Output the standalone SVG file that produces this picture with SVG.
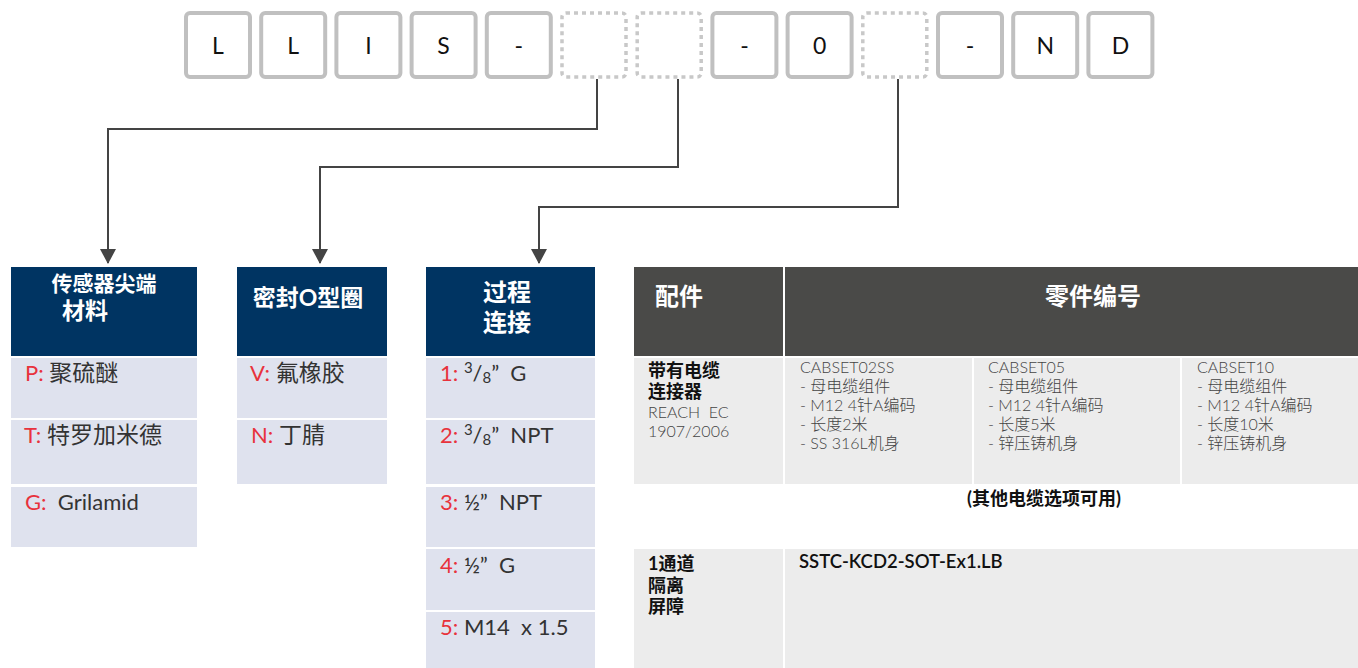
<svg xmlns="http://www.w3.org/2000/svg" width="1358" height="668" viewBox="0 0 1358 668">
<defs>
<marker id="arr" markerWidth="16" markerHeight="16" refX="14" refY="8" orient="auto" markerUnits="userSpaceOnUse">
<path d="M0,0 L15,8 L0,16 z" fill="#444"/>
</marker>
<style>
text{font-family:Lato,"Noto Sans CJK SC",sans-serif;white-space:pre}
.box{fill:#fff;stroke:#c0c0c0;stroke-width:4}
.dbox{fill:#fff;stroke:#c8c8c8;stroke-width:3.5;stroke-dasharray:4 4}
.lt{font-size:23px;fill:#111;text-anchor:middle}
.conn{fill:none;stroke:#444;stroke-width:2}
.nh{fill:#003462}
.nr{fill:#dfe2ee}
.gh{fill:#4a4a48}
.gr{fill:#ececec}
.hw{fill:#fff;font-weight:bold}
.rt{font-size:22px;fill:#333}
.cj{font-size:23px}
.red{fill:#e8323c}
.ct{font-size:16px;fill:#444;font-weight:300}
.bt{font-size:18px;fill:#111;font-weight:bold}
</style>
</defs>
<g id="code">
<g id="c1"><rect class="box" x="186" y="13" width="64" height="64" rx="4"/><text class="lt" x="218" y="54">L</text></g>
<g id="c2"><rect class="box" x="261.2" y="13" width="64" height="64" rx="4"/><text class="lt" x="293.2" y="54">L</text></g>
<g id="c3"><rect class="box" x="336.4" y="13" width="64" height="64" rx="4"/><text class="lt" x="368.4" y="54">I</text></g>
<g id="c4"><rect class="box" x="411.6" y="13" width="64" height="64" rx="4"/><text class="lt" x="443.6" y="54">S</text></g>
<g id="c5"><rect class="box" x="486.8" y="13" width="64" height="64" rx="4"/><text class="lt" x="518.8" y="54">-</text></g>
<g id="c6"><rect class="dbox" x="562" y="13" width="64" height="64" rx="4"/></g>
<g id="c7"><rect class="dbox" x="637.2" y="13" width="64" height="64" rx="4"/></g>
<g id="c8"><rect class="box" x="712.4" y="13" width="64" height="64" rx="4"/><text class="lt" x="744.4" y="54">-</text></g>
<g id="c9"><rect class="box" x="787.6" y="13" width="64" height="64" rx="4"/><text class="lt" x="819.6" y="54">0</text></g>
<g id="c10"><rect class="dbox" x="862.8" y="13" width="64" height="64" rx="4"/></g>
<g id="c11"><rect class="box" x="938" y="13" width="64" height="64" rx="4"/><text class="lt" x="970" y="54">-</text></g>
<g id="c12"><rect class="box" x="1013.2" y="13" width="64" height="64" rx="4"/><text class="lt" x="1045.2" y="54">N</text></g>
<g id="c13"><rect class="box" x="1088.4" y="13" width="64" height="64" rx="4"/><text class="lt" x="1120.4" y="54">D</text></g>
</g>
<g id="connectors">
<path class="conn" d="M597,79 V129 H108 V263" marker-end="url(#arr)"/>
<path class="conn" d="M678,79 V167 H320 V263" marker-end="url(#arr)"/>
<path class="conn" d="M898,79 V207 H539 V263" marker-end="url(#arr)"/>
</g>
<g id="tip">
<rect class="nh" x="11" y="267" width="186" height="89"/>
<text class="hw" x="104" y="291" font-size="21" text-anchor="middle">传感器尖端</text>
<text class="hw" x="62" y="319" font-size="23">材料</text>
<rect class="nr" x="11" y="358" width="186" height="60"/>
<rect class="nr" x="11" y="420" width="186" height="64"/>
<rect class="nr" x="11" y="487" width="186" height="60"/>
<text class="rt" x="25" y="381"><tspan class="red">P:</tspan> <tspan class="cj">聚硫醚</tspan></text>
<text class="rt" x="24" y="443"><tspan class="red">T:</tspan> <tspan class="cj">特罗加米德</tspan></text>
<text class="rt" x="25" y="510"><tspan class="red">G:</tspan>  Grilamid</text>
</g>
<g id="oring">
<rect class="nh" x="237" y="267" width="150" height="89"/>
<text class="hw" x="308" y="306" font-size="23" text-anchor="middle">密封O型圈</text>
<rect class="nr" x="237" y="358" width="150" height="60"/>
<rect class="nr" x="237" y="420" width="150" height="64"/>
<text class="rt" x="250" y="381"><tspan class="red">V:</tspan> <tspan class="cj">氟橡胶</tspan></text>
<text class="rt" x="251" y="443"><tspan class="red">N:</tspan> <tspan class="cj">丁腈</tspan></text>
</g>
<g id="process">
<rect class="nh" x="426" y="267" width="169" height="89"/>
<text class="hw" x="507" y="301" font-size="24" text-anchor="middle">过程</text>
<text class="hw" x="507" y="331" font-size="24" text-anchor="middle">连接</text>
<rect class="nr" x="426" y="358" width="169" height="60"/>
<rect class="nr" x="426" y="420" width="169" height="64"/>
<rect class="nr" x="426" y="487" width="169" height="60"/>
<rect class="nr" x="426" y="549" width="169" height="61"/>
<rect class="nr" x="426" y="612" width="169" height="56"/>
<text class="rt" x="440" y="381"><tspan class="red">1:</tspan> <tspan font-size="15" dy="-8">3</tspan><tspan dy="8">/</tspan><tspan font-size="15" dy="2">8</tspan><tspan dy="-2">”  G</tspan></text>
<text class="rt" x="440" y="443"><tspan class="red">2:</tspan> <tspan font-size="15" dy="-8">3</tspan><tspan dy="8">/</tspan><tspan font-size="15" dy="2">8</tspan><tspan dy="-2">”  NPT</tspan></text>
<text class="rt" x="440" y="510"><tspan class="red">3:</tspan> ½”  NPT</text>
<text class="rt" x="440" y="573"><tspan class="red">4:</tspan> ½”  G</text>
<text class="rt" x="440" y="635"><tspan class="red">5:</tspan> M14  x 1.5</text>
</g>
<g id="accessories">
<rect class="gh" x="634" y="267" width="149" height="89"/>
<rect class="gh" x="785" y="267" width="573" height="89"/>
<text class="hw" x="655" y="305" font-size="24">配件</text>
<text class="hw" x="1093" y="305" font-size="24" text-anchor="middle">零件编号</text>
<rect class="gr" x="634" y="358" width="149" height="126"/>
<rect class="gr" x="785" y="358" width="187" height="126"/>
<rect class="gr" x="974" y="358" width="206" height="126"/>
<rect class="gr" x="1182" y="358" width="176" height="126"/>
<text class="bt" x="648" y="377">带有电缆</text>
<text class="bt" x="648" y="398">连接器</text>
<text class="ct" x="648" y="418">REACH  EC</text>
<text class="ct" x="648" y="437">1907/2006</text>
<text class="ct" x="800" y="373">CABSET02SS</text>
<text class="ct" x="800" y="392">- 母电缆组件</text>
<text class="ct" x="800" y="411">- M12 4针A编码</text>
<text class="ct" x="800" y="430">- 长度2米</text>
<text class="ct" x="800" y="449">- SS 316L机身</text>
<text class="ct" x="988" y="373">CABSET05</text>
<text class="ct" x="988" y="392">- 母电缆组件</text>
<text class="ct" x="988" y="411">- M12 4针A编码</text>
<text class="ct" x="988" y="430">- 长度5米</text>
<text class="ct" x="988" y="449">- 锌压铸机身</text>
<text class="ct" x="1197" y="373" font-weight="bold" fill="#111">CABSET10</text>
<text class="ct" x="1197" y="392">- 母电缆组件</text>
<text class="ct" x="1197" y="411">- M12 4针A编码</text>
<text class="ct" x="1197" y="430">- 长度10米</text>
<text class="ct" x="1197" y="449">- 锌压铸机身</text>
<text class="bt" x="1044" y="505" text-anchor="middle">(其他电缆选项可用)</text>
</g>
<g id="barrier">
<rect class="gr" x="634" y="549" width="149" height="119"/>
<rect class="gr" x="785" y="549" width="573" height="119"/>
<text class="bt" x="648" y="570">1通道</text>
<text class="bt" x="648" y="592">隔离</text>
<text class="bt" x="648" y="613">屏障</text>
<text x="799" y="568" font-size="18.5" fill="#111" font-weight="600">SSTC-KCD2-SOT-Ex1.LB</text>
</g>
</svg>
